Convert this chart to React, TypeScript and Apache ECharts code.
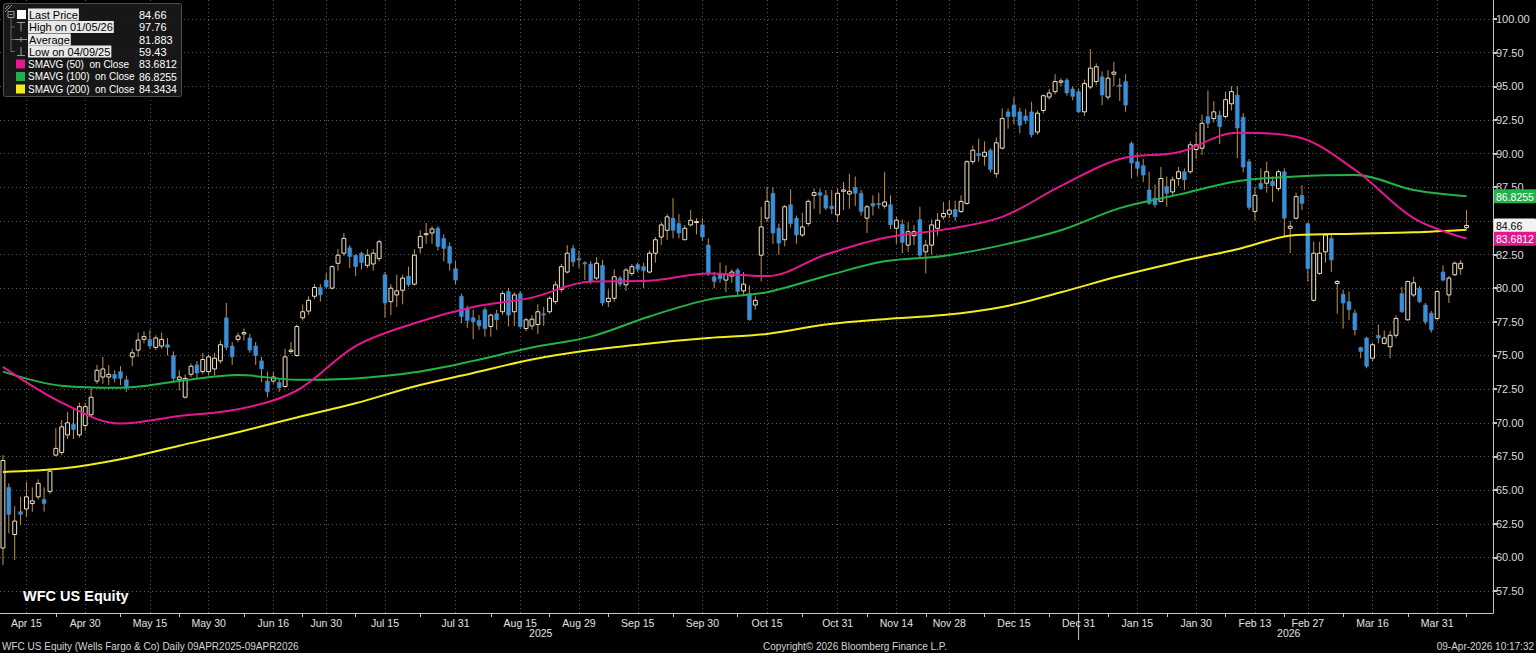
import React, { useEffect, useRef } from "react";
import * as echarts from "echarts";

const FONT = "'Liberation Sans', Arial, sans-serif";
const GRID_COLOR = "#5c5c5c";
const AXIS_COLOR = "#c8c8c8";
const WICK = "#c39246";
const UP_EDGE = "#f1e3c6";
const DOWN_FILL = "#3b8fd9";
const SMA50_COLOR = "#e3188f";
const SMA100_COLOR = "#22b24a";
const SMA200_COLOR = "#f4ec1f";

// NYSE holidays inside the window
const marketHolidays = [
  "2025-04-18", "2025-05-26", "2025-06-19", "2025-07-04", "2025-09-01", "2025-11-27",
  "2025-12-25", "2026-01-01", "2026-01-19", "2026-02-16", "2026-04-03",
];

const labelDates = [
  "2025-04-15", "2025-04-30", "2025-05-15", "2025-05-30", "2025-06-16", "2025-06-30",
  "2025-07-15", "2025-07-31", "2025-08-15", "2025-08-29", "2025-09-15", "2025-09-30",
  "2025-10-15", "2025-10-31", "2025-11-14", "2025-11-28", "2025-12-15", "2025-12-31",
  "2026-01-15", "2026-01-30", "2026-02-13", "2026-02-27", "2026-03-16", "2026-03-31",
];

const priceTicks = [
  57.5, 60, 62.5, 65, 67.5, 70, 72.5, 75, 77.5, 80, 82.5, 85, 87.5, 90, 92.5, 95, 97.5, 100,
];

// daily bars: [open, high, low, close]
const ohlc: [number, number, number, number][] = [
  [60.7, 67.6, 59.43, 67.2], [65.2, 65.5, 61.8, 63.2], [61.7, 63.8, 59.8, 62.7], [63.4, 64.5, 62.4, 63.2],
  [63.6, 65.6, 63.0, 64.5], [64.0, 65.2, 63.4, 64.2], [64.5, 65.8, 64.3, 65.5], [64.3, 65.2, 63.4, 64.0],
  [64.9, 66.6, 64.7, 66.4], [67.6, 69.6, 67.5, 68.1], [67.8, 70.2, 67.6, 69.7], [69.1, 70.8, 68.8, 70.0],
  [69.9, 71.0, 68.8, 69.5], [69.1, 71.5, 68.9, 71.2], [69.8, 71.5, 69.4, 71.2], [70.6, 72.6, 70.5, 71.9],
  [73.1, 74.3, 72.9, 73.9], [73.4, 74.9, 72.9, 74.0], [73.4, 74.3, 72.8, 73.6], [73.6, 73.9, 73.0, 73.3],
  [73.8, 74.2, 72.8, 73.3], [73.2, 73.5, 72.3, 72.6], [74.9, 75.5, 74.2, 75.2], [75.4, 76.7, 74.9, 76.15],
  [76.2, 76.8, 75.9, 76.4], [76.2, 76.9, 75.5, 75.7], [75.6, 76.5, 75.4, 76.3], [75.7, 76.7, 75.5, 76.2],
  [75.8, 76.3, 75.0, 75.6], [75.0, 75.3, 73.1, 73.3], [73.2, 73.9, 72.4, 73.4], [71.9, 73.6, 71.8, 73.3],
  [73.6, 74.4, 73.4, 74.2], [74.3, 74.6, 73.3, 73.7], [73.8, 75.2, 73.6, 74.7], [73.8, 75.1, 73.5, 74.9],
  [74.0, 75.2, 73.5, 74.8], [74.6, 76.1, 74.4, 75.8], [77.8, 78.9, 75.4, 75.6], [75.7, 76.0, 74.3, 74.9],
  [76.2, 76.7, 76.0, 76.45], [76.6, 77.0, 76.1, 76.7], [76.3, 76.6, 75.2, 75.4], [75.7, 76.0, 74.3, 75.0],
  [74.6, 74.9, 73.0, 74.0], [73.1, 73.8, 71.9, 72.3], [73.1, 73.8, 72.9, 73.4], [73.0, 73.3, 72.3, 72.6],
  [72.7, 75.5, 72.6, 74.9], [75.3, 76.0, 75.1, 75.4], [75.0, 77.3, 74.9, 77.15], [77.8, 78.8, 77.6, 78.25],
  [78.3, 79.4, 78.0, 79.1], [79.4, 80.3, 79.2, 80.05], [80.05, 80.3, 79.0, 79.5], [80.6, 81.1, 80.0, 80.1],
  [80.0, 81.7, 79.9, 81.6], [81.85, 82.9, 81.3, 82.45], [82.6, 84.1, 82.4, 83.7], [83.0, 83.2, 81.5, 82.35],
  [82.45, 82.5, 80.9, 81.6], [82.6, 82.7, 81.4, 81.9], [81.7, 82.9, 81.5, 82.45], [81.8, 82.9, 81.3, 82.6],
  [82.2, 83.6, 82.0, 83.45], [81.0, 81.2, 77.8, 78.9], [79.0, 80.3, 78.0, 80.0], [79.5, 81.0, 78.6, 79.8],
  [79.85, 81.0, 78.8, 80.75], [80.9, 81.6, 80.1, 80.25], [80.3, 82.9, 80.2, 82.45], [83.0, 84.3, 82.6, 83.85],
  [84.0, 84.85, 83.3, 84.05], [84.1, 84.6, 83.3, 84.4], [84.45, 84.6, 82.8, 83.1], [83.7, 84.0, 82.0, 82.95],
  [83.1, 83.4, 81.3, 81.85], [81.45, 82.0, 80.3, 80.6], [79.4, 79.6, 77.4, 77.9], [78.5, 78.7, 77.05, 77.6],
  [77.8, 78.4, 76.2, 77.5], [77.6, 78.0, 76.9, 77.2], [78.4, 78.6, 76.4, 77.0], [77.15, 78.1, 76.4, 78.0],
  [78.1, 78.4, 76.9, 77.65], [78.25, 79.8, 78.0, 79.6], [79.75, 80.0, 77.15, 78.0], [78.25, 79.7, 77.2, 79.5],
  [79.6, 79.8, 77.0, 77.15], [77.0, 77.8, 76.8, 77.65], [77.2, 78.0, 76.9, 77.7], [77.3, 78.8, 76.6, 78.25],
  [78.1, 78.6, 77.2, 78.0], [78.25, 79.4, 78.1, 79.25], [79.0, 80.5, 78.8, 80.25], [79.9, 81.8, 79.7, 81.6],
  [81.2, 83.2, 81.1, 82.6], [82.95, 83.2, 81.6, 81.95], [82.2, 82.8, 81.5, 82.1], [81.9, 82.0, 80.6, 81.8],
  [81.8, 82.0, 80.3, 80.5], [80.75, 82.3, 80.6, 81.85], [81.7, 82.1, 78.7, 78.9], [79.0, 79.9, 78.6, 79.25],
  [79.25, 81.4, 79.0, 80.85], [80.75, 80.9, 80.1, 80.3], [80.25, 81.5, 79.8, 81.35], [81.1, 81.8, 80.9, 81.6],
  [81.75, 81.9, 81.2, 81.4], [81.6, 81.9, 80.0, 81.3], [81.2, 82.8, 81.1, 82.6], [82.6, 83.8, 81.9, 83.6],
  [83.8, 84.9, 83.2, 84.7], [84.3, 85.5, 83.6, 85.3], [85.2, 86.7, 83.7, 84.3], [84.8, 85.5, 83.7, 84.1],
  [83.6, 84.7, 83.6, 84.45], [84.7, 85.8, 84.6, 85.05], [84.9, 85.2, 84.0, 84.95], [84.7, 85.2, 83.5, 83.8],
  [83.2, 83.7, 80.9, 81.1], [80.85, 81.2, 80.0, 80.5], [81.1, 81.9, 80.4, 80.7], [80.6, 81.7, 79.7, 81.0],
  [80.9, 81.4, 80.4, 81.2], [81.35, 81.5, 79.4, 79.75], [79.8, 81.2, 79.4, 80.3], [79.6, 80.2, 77.6, 77.65],
  [78.75, 79.4, 78.4, 79.1], [82.45, 86.05, 80.5, 84.55], [85.2, 87.55, 84.9, 86.45], [87.05, 87.5, 83.3, 84.1],
  [84.45, 84.8, 82.5, 83.35], [83.6, 86.2, 83.1, 86.05], [86.2, 87.35, 84.5, 84.8], [85.2, 85.4, 83.3, 83.95],
  [83.95, 85.6, 83.8, 84.55], [84.8, 86.6, 84.6, 86.45], [86.9, 87.4, 85.9, 87.1], [87.1, 87.4, 85.5, 86.9],
  [86.9, 87.3, 85.8, 85.95], [86.1, 87.3, 85.5, 85.9], [85.45, 87.4, 84.9, 87.05], [87.2, 87.9, 85.8, 87.3],
  [87.0, 88.5, 85.9, 87.2], [87.5, 88.3, 86.1, 87.05], [87.05, 87.3, 85.4, 85.7], [85.2, 86.2, 84.1, 86.05],
  [86.3, 86.9, 85.4, 86.1], [86.3, 87.1, 85.9, 86.2], [86.1, 88.65, 85.9, 86.4], [86.2, 86.9, 84.4, 84.7],
  [84.45, 85.3, 83.3, 85.05], [84.75, 85.1, 82.6, 83.4], [83.2, 84.9, 82.7, 84.2], [83.9, 84.7, 83.2, 84.2],
  [85.1, 86.05, 82.3, 82.45], [82.7, 83.6, 81.1, 83.2], [83.2, 85.1, 82.5, 84.7], [84.45, 85.6, 83.9, 85.05],
  [85.3, 86.4, 85.1, 85.55], [85.5, 86.5, 85.2, 85.8], [85.85, 86.5, 85.0, 85.3], [85.7, 86.9, 85.6, 86.45],
  [86.3, 89.5, 86.2, 89.4], [89.4, 90.6, 89.2, 90.25], [90.0, 91.1, 89.4, 89.85], [89.8, 90.9, 89.1, 90.1],
  [90.25, 90.4, 88.6, 88.8], [88.5, 91.2, 88.2, 90.8], [90.4, 93.35, 90.3, 92.6], [93.1, 93.35, 91.85, 92.75],
  [93.6, 94.2, 92.2, 92.75], [93.1, 93.4, 91.5, 92.1], [92.8, 93.3, 92.2, 92.45], [93.1, 93.85, 91.2, 91.4],
  [91.6, 93.2, 91.4, 93.0], [93.2, 94.4, 93.0, 94.3], [94.2, 94.8, 94.0, 94.5], [94.6, 95.9, 94.4, 95.35],
  [95.3, 95.6, 95.0, 95.4], [95.45, 95.6, 94.3, 94.5], [94.8, 95.0, 93.95, 94.25], [94.6, 94.8, 93.0, 93.1],
  [93.1, 95.5, 92.8, 95.2], [94.95, 97.76, 94.8, 96.35], [95.35, 96.7, 95.1, 96.45], [95.7, 96.1, 93.6, 94.35],
  [94.2, 96.2, 94.0, 95.6], [95.9, 96.8, 95.0, 96.05], [95.1, 95.6, 93.9, 95.0], [95.35, 95.9, 93.1, 93.6],
  [90.75, 90.9, 88.15, 89.3], [89.4, 90.0, 88.35, 88.9], [89.1, 89.6, 87.9, 88.4], [87.3, 88.65, 86.2, 86.3],
  [86.7, 87.7, 86.0, 86.2], [86.45, 89.0, 86.4, 88.15], [87.55, 88.3, 86.05, 87.05], [87.15, 88.3, 86.8, 88.05],
  [88.15, 89.0, 87.6, 88.65], [88.65, 88.9, 87.3, 88.05], [88.65, 90.9, 88.5, 90.65], [90.3, 91.6, 89.6, 90.65],
  [90.4, 92.9, 89.9, 92.25], [92.75, 94.7, 91.9, 92.25], [92.6, 93.9, 92.3, 93.1], [92.85, 93.2, 90.7, 92.0],
  [92.75, 94.6, 92.6, 94.0], [93.7, 95.0, 93.2, 94.6], [94.35, 95.0, 89.65, 91.9], [92.7, 93.0, 88.6, 89.0],
  [89.4, 89.6, 85.8, 86.0], [85.7, 87.55, 85.05, 86.9], [87.8, 88.9, 87.3, 87.4], [87.8, 89.4, 87.1, 88.65],
  [87.95, 88.3, 86.4, 87.6], [87.4, 88.8, 87.2, 88.65], [88.65, 88.9, 83.85, 85.2], [84.45, 85.0, 82.6, 84.6],
  [85.2, 87.1, 85.1, 86.8], [86.9, 87.65, 85.8, 86.3], [84.8, 84.9, 80.5, 81.45], [79.1, 83.45, 79.0, 82.6],
  [81.1, 83.45, 81.0, 82.6], [82.7, 84.05, 81.9, 83.95], [83.7, 83.95, 81.2, 82.1], [80.35, 80.6, 78.1, 80.5],
  [79.55, 79.9, 77.0, 78.9], [79.0, 79.75, 77.65, 78.4], [78.15, 78.4, 76.5, 76.9], [75.6, 75.65, 74.8, 75.3],
  [76.3, 76.4, 74.05, 74.2], [74.8, 75.95, 74.55, 75.8], [76.5, 77.3, 75.9, 76.3], [75.9, 76.85, 75.8, 76.3],
  [75.65, 76.85, 74.8, 76.5], [76.5, 78.0, 76.3, 77.75], [79.6, 80.1, 78.15, 78.25], [77.65, 80.55, 77.6, 80.5],
  [79.5, 80.85, 79.35, 80.4], [80.0, 80.15, 78.9, 79.0], [78.75, 78.9, 77.3, 77.5], [78.15, 78.3, 76.7, 76.9],
  [77.75, 79.85, 77.6, 79.75], [81.2, 81.7, 80.5, 80.6], [79.5, 80.9, 78.9, 80.75], [81.0, 82.0, 80.9, 81.85],
  [81.45, 82.1, 81.0, 81.85], [84.5, 85.8, 84.4, 84.66],
];

// moving averages at every tenth bar
const smaIndex = [0, 10, 20, 30, 40, 50, 60, 70, 80, 90, 100, 110, 120, 130, 140, 150, 160, 170, 180, 190, 200, 210, 220, 230, 240, 249];
const sma50 = [74.15, 71.5, 69.95, 70.5, 71.0, 72.4, 75.7, 77.4, 78.6, 79.3, 80.5, 80.55, 81.1, 80.9, 82.5, 83.75, 84.35, 85.3, 87.6, 89.6, 90.1, 91.55, 91.25, 88.8, 85.2, 83.68];
const sma100 = [73.8, 72.75, 72.6, 73.1, 73.55, 73.2, 73.3, 73.75, 74.6, 75.6, 76.4, 77.9, 79.15, 79.7, 80.9, 82.0, 82.4, 83.2, 84.3, 85.95, 86.95, 87.95, 88.3, 88.4, 87.3, 86.83];
const sma200 = [66.35, 66.6, 67.3, 68.3, 69.3, 70.4, 71.45, 72.7, 73.7, 74.7, 75.4, 75.9, 76.3, 76.6, 77.3, 77.7, 78.0, 78.6, 79.7, 80.9, 81.95, 82.9, 83.95, 84.05, 84.15, 84.34];

const legendLabels = [
  "Last Price", "High on 01/05/26", "Average", "Low on 04/09/25",
  "SMAVG (50)  on Close", "SMAVG (100)  on Close", "SMAVG (200)  on Close",
];
const legendValues = ["84.66", "97.76", "81.883", "59.43", "83.6812", "86.8255", "84.3434"];

const lastPrice = 84.66;
const lastSma50 = 83.6812;
const lastSma100 = 86.8255;

const MONTHS = ["Jan", "Feb", "Mar", "Apr", "May", "Jun", "Jul", "Aug", "Sep", "Oct", "Nov", "Dec"];

function tradingDays(start: string, end: string) {
  const out: string[] = [];
  const d = new Date(start + "T00:00:00Z");
  const last = new Date(end + "T00:00:00Z");
  while (d <= last) {
    const wd = d.getUTCDay();
    const iso = d.toISOString().slice(0, 10);
    if (wd !== 0 && wd !== 6 && !marketHolidays.includes(iso)) out.push(iso);
    d.setUTCDate(d.getUTCDate() + 1);
  }
  return out;
}

const dates = tradingDays("2025-04-09", "2026-04-09");
const categories = [...dates, "", "", ""];
const labelSet = new Set(labelDates);
const labelIdx = labelDates.map((d) => dates.indexOf(d));
const minorTicks = new Set<number>();
for (let k = 0; k < labelIdx.length - 1; k++) minorTicks.add(Math.round((labelIdx[k] + labelIdx[k + 1]) / 2));
minorTicks.add(labelIdx[labelIdx.length - 1] + 5);

function fmtDate(v: string) {
  if (!v) return "";
  const [, m, d] = v.split("-");
  return `${MONTHS[Number(m) - 1]} ${Number(d)}`;
}

function txt(x: number, y: number, text: string, fill: string, size: number, extra: any = {}) {
  return {
    type: "text",
    x,
    y,
    z: 100,
    style: { text, fill, font: `${extra.bold ? "bold " : ""}${size}px ${FONT}`, verticalAlign: "middle", align: extra.align || "left", ...(extra.style || {}) },
  };
}

function legendGraphic() {
  const rowY = [14.5, 27, 39.5, 51.5, 64, 76.5, 89];
  const gray = "#9a9a9a";
  const els: any[] = [
    { type: "rect", z: 99, shape: { x: 3.5, y: 3.5, width: 178, height: 93, r: 2 }, style: { fill: "rgba(24,24,24,0.94)", stroke: "#4e4e4e", lineWidth: 1 } },
    { type: "line", z: 100, shape: { x1: 5, y1: 9, x2: 9, y2: 5 }, style: { stroke: gray, lineWidth: 1 } },
    { type: "line", z: 100, shape: { x1: 5, y1: 12, x2: 12, y2: 5 }, style: { stroke: gray, lineWidth: 1 } },
    { type: "rect", z: 100, shape: { x: 8, y: 11.5, width: 6, height: 6 }, style: { fill: "none", stroke: gray, lineWidth: 1 } },
    { type: "line", z: 100, shape: { x1: 9.5, y1: 14.5, x2: 12.5, y2: 14.5 }, style: { stroke: gray, lineWidth: 1 } },
    { type: "line", z: 100, shape: { x1: 11, y1: 18, x2: 11, y2: 52 }, style: { stroke: "#666", lineWidth: 1 } },
    { type: "rect", z: 100, shape: { x: 17, y: 10, width: 9, height: 9 }, style: { fill: "#ffffff" } },
    { type: "line", z: 100, shape: { x1: 17, y1: 22.5, x2: 25, y2: 22.5 }, style: { stroke: gray, lineWidth: 1 } },
    { type: "line", z: 100, shape: { x1: 21, y1: 22.5, x2: 21, y2: 31.5 }, style: { stroke: gray, lineWidth: 1 } },
    { type: "line", z: 100, shape: { x1: 15, y1: 39.5, x2: 27, y2: 39.5 }, style: { stroke: gray, lineWidth: 1 } },
    { type: "line", z: 100, shape: { x1: 21, y1: 37, x2: 21, y2: 42 }, style: { stroke: gray, lineWidth: 1 } },
    { type: "line", z: 100, shape: { x1: 21, y1: 47, x2: 21, y2: 55.5 }, style: { stroke: gray, lineWidth: 1 } },
    { type: "line", z: 100, shape: { x1: 17, y1: 55.5, x2: 25, y2: 55.5 }, style: { stroke: gray, lineWidth: 1 } },
  ];
  [27, 39.5, 51.5].forEach((y) =>
    els.push({ type: "line", z: 100, shape: { x1: 11, y1: y, x2: 15, y2: y }, style: { stroke: "#666", lineWidth: 1 } })
  );
  [SMA50_COLOR, SMA100_COLOR, SMA200_COLOR].forEach((c, k) =>
    els.push({ type: "rect", z: 100, shape: { x: 16, y: rowY[4 + k] - 4.5, width: 9, height: 9 }, style: { fill: c } })
  );
  legendLabels.forEach((label, k) => {
    if (k < 4) {
      els.push(txt(28, rowY[k], label, "#000", 11, { style: { backgroundColor: "#e9e9e9", padding: [1, 1, 0, 1] } }));
    } else {
      els.push(txt(28, rowY[k], label, "#ffffff", 10));
    }
    els.push(txt(139, rowY[k], legendValues[k], "#ffffff", k < 4 ? 11 : 10.5));
  });
  return els;
}

export default function App() {
  const ref = useRef<HTMLDivElement>(null);

  useEffect(() => {
    document.body.style.margin = "0";
    document.body.style.background = "#000";
    if (!ref.current) return;
    const chart = echarts.init(ref.current, null, { renderer: "svg" });

    const smaSeries = (name: string, values: number[], color: string, extra: any = {}) => ({
      name,
      type: "line",
      data: smaIndex.map((x, k) => [x, values[k]]),
      smooth: 0.35,
      symbol: "none",
      z: 4,
      lineStyle: { color, width: 2 },
      ...extra,
    });

    const option: any = {
      animation: false,
      backgroundColor: "#000",
      grid: { left: 0, right: 43, top: 0, bottom: 40 },
      xAxis: {
        type: "category",
        data: categories,
        boundaryGap: true,
        axisLine: { lineStyle: { color: AXIS_COLOR, width: 1 } },
        axisTick: {
          show: true,
          alignWithLabel: true,
          interval: (i: number) => minorTicks.has(i),
          length: 4,
          lineStyle: { color: AXIS_COLOR },
        },
        axisLabel: {
          interval: (_i: number, v: string) => labelSet.has(v),
          formatter: (v: string) => fmtDate(v),
          color: "#e2e2e2",
          fontSize: 10.5,
          fontFamily: FONT,
          margin: 4,
        },
        splitLine: {
          show: true,
          alignWithLabel: true,
          interval: (_i: number, v: string) => labelSet.has(v),
          lineStyle: { color: GRID_COLOR, type: [1, 3], width: 1 },
        },
      },
      yAxis: {
        type: "value",
        position: "right",
        min: 55.87,
        max: 101.41,
        axisLine: { show: true, lineStyle: { color: AXIS_COLOR, width: 1 } },
        axisTick: { show: true, customValues: priceTicks, length: 4, lineStyle: { color: AXIS_COLOR, width: 2 } },
        axisLabel: {
          customValues: priceTicks.filter((v) => v !== 85),
          formatter: (v: number) => v.toFixed(2),
          color: "#dcdcdc",
          fontSize: 11,
          fontFamily: FONT,
          margin: 3,
        },
        splitLine: { show: false },
      },
      series: [
        {
          name: "WFC",
          type: "custom",
          z: 2,
          data: ohlc.map((d, i) => [i, d[0], d[1], d[2], d[3]]),
          encode: { x: 0, y: [1, 2, 3, 4] },
          renderItem: (_params: any, api: any) => {
            const i = api.value(0);
            const o = api.value(1);
            const h = api.value(2);
            const l = api.value(3);
            const c = api.value(4);
            const top = api.coord([i, h]);
            const bot = api.coord([i, l]);
            const po = api.coord([i, o]);
            const pc = api.coord([i, c]);
            const w = Math.max(2, api.size([1, 0])[0] * 0.66);
            const up = c >= o;
            const y0 = Math.min(po[1], pc[1]);
            const bh = Math.max(1, Math.abs(po[1] - pc[1]));
            return {
              type: "group",
              children: [
                { type: "line", shape: { x1: top[0], y1: top[1], x2: bot[0], y2: bot[1] }, style: { stroke: WICK, lineWidth: 1 } },
                {
                  type: "rect",
                  shape: { x: top[0] - w / 2, y: y0, width: w, height: bh },
                  style: up ? { fill: "#000", stroke: UP_EDGE, lineWidth: 1 } : { fill: DOWN_FILL, stroke: DOWN_FILL, lineWidth: 0.5 },
                },
              ],
            };
          },
        },
        smaSeries("SMAVG (200)", sma200, SMA200_COLOR, {
          markLine: {
            silent: true,
            z: 1,
            symbol: ["none", "none"],
            label: { show: false },
            lineStyle: { color: GRID_COLOR, type: [1, 3], width: 1 },
            data: priceTicks.map((v) => ({ yAxis: v })),
          },
        }),
        smaSeries("SMAVG (100)", sma100, SMA100_COLOR),
        smaSeries("SMAVG (50)", sma50, SMA50_COLOR),
      ],
    };

    chart.setOption(option);

    const py = (v: number) => chart.convertToPixel({ yAxisIndex: 0 }, v) as number;
    const px = (i: number) => chart.convertToPixel({ xAxisIndex: 0 }, i) as number;
    const axisY = 613;
    const rightX = 1493;
    const firstIdx2026 = dates.findIndex((d) => d.startsWith("2026"));

    const tag = (value: number, bg: string, fg: string, text: string) => ({
      type: "group",
      x: rightX + 1,
      y: py(value) - 7,
      z: 100,
      children: [
        { type: "rect", z: 100, shape: { x: 0, y: 0, width: 42, height: 14, r: 1 }, style: { fill: bg } },
        txt(2, 7.5, text, fg, 10.5),
      ],
    });

    const graphics: any[] = [
      ...legendGraphic(),
      txt(23, 596, "WFC US Equity", "#ffffff", 14.5, { bold: true }),
      txt((px(0) + px(firstIdx2026 - 1)) / 2, 633, "2025", "#e2e2e2", 10.5, { align: "center" }),
      txt((px(firstIdx2026) + rightX) / 2, 633, "2026", "#e2e2e2", 10.5, { align: "center" }),
      { type: "line", z: 100, shape: { x1: px(firstIdx2026 - 1), y1: axisY, x2: px(firstIdx2026 - 1), y2: 640 }, style: { stroke: AXIS_COLOR, lineWidth: 1 } },
      txt(2, 646, "WFC US Equity (Wells Fargo & Co) Daily 09APR2025-09APR2026", "#d4d4d4", 10),
      txt(855, 646, "Copyright\u00a9 2026 Bloomberg Finance L.P.", "#d4d4d4", 10, { align: "center" }),
      txt(1534, 646, "09-Apr-2026 10:17:32", "#d4d4d4", 10, { align: "right" }),
      tag(lastSma100, SMA100_COLOR, "#ffffff", lastSma100.toFixed(4)),
      tag(lastPrice, "#f2f2f2", "#000000", lastPrice.toFixed(2)),
      tag(lastSma50, SMA50_COLOR, "#ffffff", lastSma50.toFixed(4)),
    ];

    chart.setOption({ graphic: graphics });

    return () => chart.dispose();
  }, []);

  return <div ref={ref} style={{ position: "absolute", left: 0, top: 0, width: 1536, height: 653, background: "#000" }} />;
}
